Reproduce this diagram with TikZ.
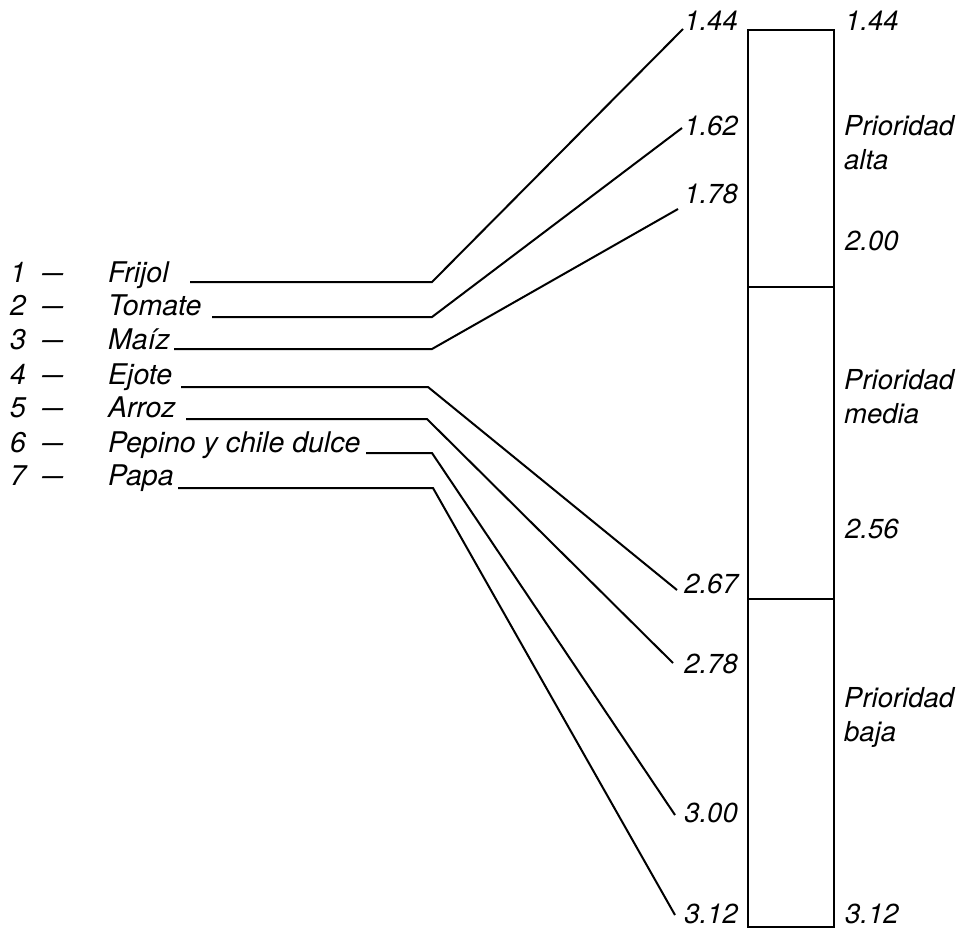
\documentclass[tikz,border=0pt]{standalone}
\usepackage{fontspec}
\setmainfont{TeX Gyre Heros}
\begin{document}
\begin{tikzpicture}[x=1pt,y=-1pt,
  lbl/.style={inner sep=0pt,font=\fontsize{27.5}{34}\selectfont\itshape},
  itm/.style={inner sep=0pt,font=\fontsize{28.5}{34}\selectfont\itshape},
  lnk/.style={line width=2pt},
  boxline/.style={line width=2.6pt}]
\useasboundingbox (0,0) rectangle (964,930);
% item rows
\foreach \n/\t/\b in {1/Frijol/282,2/Tomate/315,3/Maíz/349,4/Ejote/384,5/Arroz/417,6/Pepino y chile dulce/452,7/Papa/485}{
  \node[itm,anchor=base west] (n\n) at (10,\b) {\n};
  \node[itm,anchor=base west] (d\n) at (42,\b) {\scalebox{1.3}[1]{–}};
  \node[itm,anchor=base west] (i\n) at (108,\b) {\t};
}
% left value labels
\node[lbl,anchor=base east] (v1) at (738,30) {1.44};
\node[lbl,anchor=base east] (v2) at (738,135) {1.62};
\node[lbl,anchor=base east] (v3) at (738,203) {1.78};
\node[lbl,anchor=base east] (v4) at (738,593) {2.67};
\node[lbl,anchor=base east] (v5) at (738,673) {2.78};
\node[lbl,anchor=base east] (v6) at (738,822) {3.00};
\node[lbl,anchor=base east] (v7) at (738,923) {3.12};
% connector points
\coordinate (s1) at (190,282); \coordinate (j1) at (432,282); \coordinate (e1) at (683,29);
\coordinate (s2) at (212,317); \coordinate (j2) at (432,317); \coordinate (e2) at (682,128);
\coordinate (s3) at (174,349); \coordinate (j3) at (432,349); \coordinate (e3) at (678,209);
\coordinate (s4) at (181,387); \coordinate (j4) at (428,387); \coordinate (e4) at (677,590);
\coordinate (s5) at (186,419); \coordinate (j5) at (427,419); \coordinate (e5) at (673,663);
\coordinate (s6) at (366,453); \coordinate (j6) at (432,453); \coordinate (e6) at (675,815);
\coordinate (s7) at (178,488); \coordinate (j7) at (433,488); \coordinate (e7) at (675,915);
\foreach \k in {1,...,7}{
  \draw[lnk] (s\k) -- (j\k) -- (e\k);
}
% priority bar
\draw[boxline] (748,30) rectangle (834,927);
\draw[boxline] (748,287) -- (834,287);
\draw[boxline] (748,599) -- (834,599);
% right labels
\node[lbl,anchor=base west] (r1) at (845,30) {1.44};
\node[lbl,anchor=north west,align=left] (pa) at (844,115) {Prioridad\\alta};
\node[lbl,anchor=base west] (r2) at (845,250) {2.00};
\node[lbl,anchor=north west,align=left] (pm) at (844,369) {Prioridad\\media};
\node[lbl,anchor=base west] (r3) at (845,538) {2.56};
\node[lbl,anchor=north west,align=left] (pb) at (844,687) {Prioridad\\baja};
\node[lbl,anchor=base west] (r4) at (845,923) {3.12};
\end{tikzpicture}
\end{document}
